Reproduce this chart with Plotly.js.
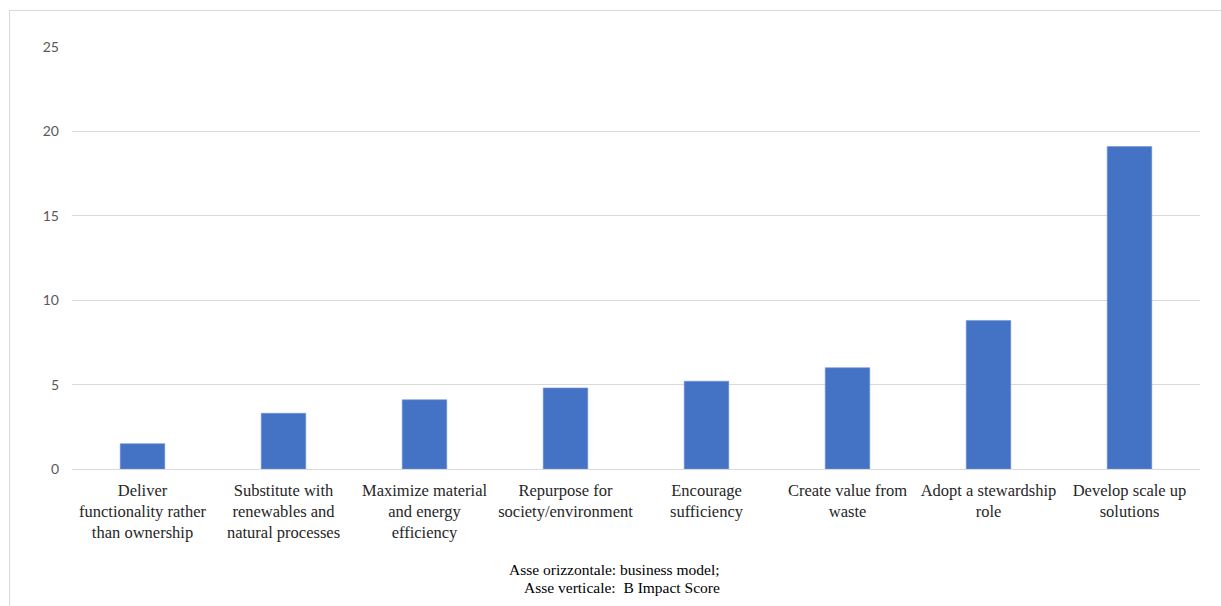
<!DOCTYPE html>
<html>
<head>
<meta charset="utf-8">
<script src="https://cdn.plot.ly/plotly-3.0.1.min.js"></script>
<style>
  html, body { margin: 0; padding: 0; background: #ffffff; }
  #wrap { position: relative; width: 1221px; height: 606px; overflow: hidden; }
  #chart { position: absolute; left: 0; top: 0; width: 1221px; height: 606px; }
  #frame { position: absolute; left: 9px; top: 10px; width: 1230px; height: 620px;
           border: 1px solid #d9d9d9; box-sizing: border-box; pointer-events: none; }
</style>
</head>
<body>
<div id="wrap">
  <div id="chart"></div>
  <div id="frame"></div>
</div>
<script>
// Business model categories and their average B Impact Score
const categories = [
  "Deliver<br>functionality rather<br>than ownership",
  "Substitute with<br>renewables and<br>natural processes",
  "Maximize material<br>and energy<br>efficiency",
  "Repurpose for<br>society/environment",
  "Encourage<br>sufficiency",
  "Create value from<br>waste",
  "Adopt a stewardship<br>role",
  "Develop scale up<br>solutions"
];
const scores = [1.5, 3.3, 4.1, 4.8, 5.2, 6.0, 8.8, 19.1];
const yTicks = [0, 5, 10, 15, 20, 25];
const noteLines = ["Asse orizzontale: business model;", "Asse verticale:  B Impact Score"];

const serif = "Liberation Serif, Times New Roman, serif";

const trace = {
  type: "bar",
  x: categories,
  y: scores,
  marker: { color: "#4472C4", line: { color: "#6f93d3", width: 0.6 } },
  hoverinfo: "x+y"
};

// Two-line caption under the axis, one annotation per line
const noteX = [0.481, 0.488];
const noteY = [-0.2386, -0.2818];
const annotations = noteLines.map((t, i) => ({
  text: t,
  xref: "paper", yref: "paper",
  x: noteX[i], y: noteY[i],
  xanchor: "center", yanchor: "middle",
  showarrow: false,
  font: { family: serif, size: 15.5, color: "#000000" }
}));

const layout = {
  width: 1221,
  height: 606,
  margin: { l: 72, r: 21, t: 47, b: 137 },
  paper_bgcolor: "#ffffff",
  plot_bgcolor: "#ffffff",
  bargap: 0.684,
  showlegend: false,
  xaxis: {
    type: "category",
    showgrid: false,
    zeroline: false,
    showline: false,
    ticks: "",
    ticklabelstandoff: 9,
    tickfont: { family: serif, size: 16.5, color: "#262626" },
    automargin: false
  },
  yaxis: {
    range: [0, 25],
    tickvals: yTicks,
    ticktext: yTicks.map(String),
    showgrid: true,
    gridcolor: "#d9d9d9",
    gridwidth: 1,
    zeroline: true,
    zerolinecolor: "#d9d9d9",
    zerolinewidth: 1,
    showline: false,
    ticks: "",
    ticklabelstandoff: 12,
    tickfont: { family: "Lato, Carlito, Calibri, sans-serif", size: 14, color: "#595959" },
    automargin: false
  },
  annotations: annotations
};

Plotly.newPlot("chart", [trace], layout, { displayModeBar: false, staticPlot: true });
</script>
</body>
</html>
